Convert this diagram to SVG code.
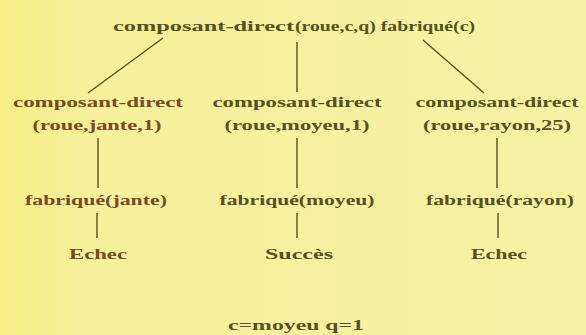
<svg xmlns="http://www.w3.org/2000/svg" width="586" height="335" viewBox="0 0 586 335">
  <defs>
    <linearGradient id="paper" x1="0" y1="0" x2="1" y2="0">
      <stop offset="0" stop-color="#f8ef86"/>
      <stop offset="0.15" stop-color="#f7f09c"/>
      <stop offset="1" stop-color="#f6f2a6"/>
    </linearGradient>
    <style>
      text { font-family: "Liberation Serif", "Times New Roman", serif; font-weight: bold; font-size: 15px; fill: #56521f; text-anchor: middle; }
      text.start { text-anchor: start; }
      text.warm { fill: #7a4a26; }
      .edge { stroke: #56521f; stroke-width: 1.4; fill: none; }
    </style>
  </defs>
  <rect width="586" height="335" fill="url(#paper)"/>

  <g id="connectors">
    <line class="edge" x1="163" y1="38" x2="88" y2="93"/>
    <line class="edge" x1="297" y1="42" x2="297" y2="92"/>
    <line class="edge" x1="423" y1="40" x2="484" y2="93"/>
    <line class="edge" x1="98" y1="138" x2="98" y2="188"/>
    <line class="edge" x1="297" y1="138" x2="297" y2="188"/>
    <line class="edge" x1="497" y1="138" x2="497" y2="188"/>
    <line class="edge" x1="97" y1="213" x2="97" y2="238"/>
    <line class="edge" x1="297" y1="213" x2="297" y2="238"/>
    <line class="edge" x1="498" y1="213" x2="498" y2="238"/>
  </g>

  <g id="root">
    <text class="start" x="113" y="31" textLength="181" lengthAdjust="spacingAndGlyphs">composant-direct</text>
    <text class="start" x="295" y="31" textLength="180" lengthAdjust="spacingAndGlyphs">(roue,c,q) fabriqué(c)</text>
  </g>

  <g id="jante">
    <text class="warm" x="98" y="107" textLength="170" lengthAdjust="spacingAndGlyphs">composant-direct</text>
    <text class="warm" x="97" y="130" textLength="129" lengthAdjust="spacingAndGlyphs">(roue,jante,1)</text>
  </g>
  <g id="moyeu">
    <text x="297" y="107" textLength="169" lengthAdjust="spacingAndGlyphs">composant-direct</text>
    <text x="297" y="130" textLength="145" lengthAdjust="spacingAndGlyphs">(roue,moyeu,1)</text>
  </g>
  <g id="rayon">
    <text x="497" y="107" textLength="163" lengthAdjust="spacingAndGlyphs">composant-direct</text>
    <text x="497" y="130" textLength="148" lengthAdjust="spacingAndGlyphs">(roue,rayon,25)</text>
  </g>

  <g id="fabrique-jante">
    <text class="warm" x="96" y="205" textLength="142" lengthAdjust="spacingAndGlyphs">fabriqué(jante)</text>
  </g>
  <g id="fabrique-moyeu">
    <text x="297" y="205" textLength="155" lengthAdjust="spacingAndGlyphs">fabriqué(moyeu)</text>
  </g>
  <g id="fabrique-rayon">
    <text x="500" y="205" textLength="148" lengthAdjust="spacingAndGlyphs">fabriqué(rayon)</text>
  </g>

  <g id="echec-jante">
    <text class="warm" x="98" y="259" textLength="58" lengthAdjust="spacingAndGlyphs">Echec</text>
  </g>
  <g id="succes-moyeu">
    <text x="299" y="259" textLength="68" lengthAdjust="spacingAndGlyphs">Succès</text>
  </g>
  <g id="echec-rayon">
    <text x="499" y="259" textLength="56" lengthAdjust="spacingAndGlyphs">Echec</text>
  </g>

  <g id="result">
    <text x="296" y="330" textLength="136" lengthAdjust="spacingAndGlyphs">c=moyeu q=1</text>
  </g>
</svg>
